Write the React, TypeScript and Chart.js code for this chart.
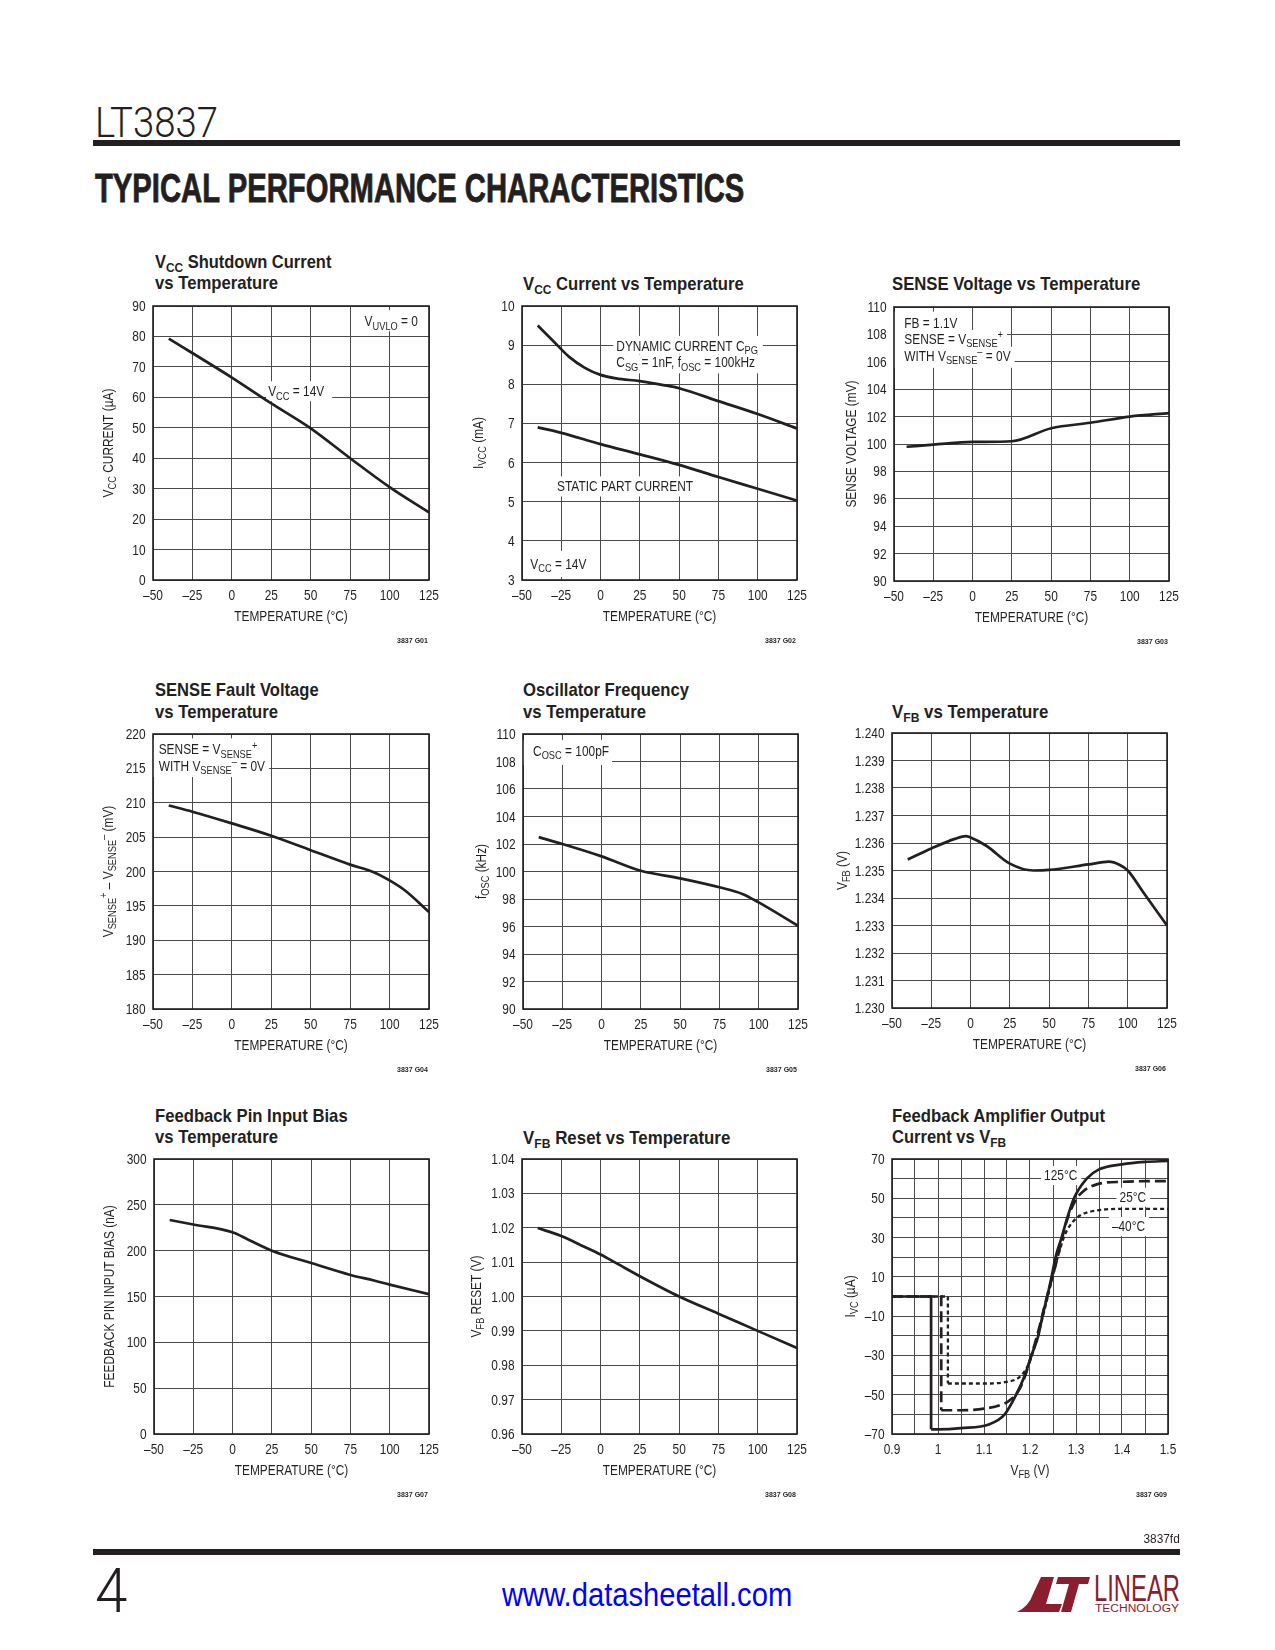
import React, { useEffect, useLayoutEffect, useRef } from 'react';
import { Chart, registerables } from 'chart.js';

Chart.register(...registerables);

// ---------------- data ----------------
const TEMP_TICKS = [-50, -25, 0, 25, 50, 75, 100, 125];

// G01 VCC shutdown current
const G01_T = [-40, 0, 25, 50, 75, 100, 125];
const G01_I = [79.3, 66.5, 58.0, 49.8, 40.0, 30.5, 22.2];
const G01_Y_TICKS = [0, 10, 20, 30, 40, 50, 60, 70, 80, 90];

// G02 VCC current
const G02_DYN_T = [-40, -30, -20, -10, 0, 10, 25, 40, 50, 75, 100, 125];
const G02_DYN_I = [9.5, 9.1, 8.7, 8.42, 8.24, 8.15, 8.08, 7.98, 7.9, 7.57, 7.24, 6.87];
const G02_STA_T = [-40, -25, 0, 25, 50, 75, 100, 125];
const G02_STA_I = [6.9, 6.76, 6.47, 6.21, 5.94, 5.63, 5.33, 5.03];
const G02_Y_TICKS = [3, 4, 5, 6, 7, 8, 9, 10];

// G03 SENSE voltage
const G03_T = [-42, -25, 0, 25, 50, 75, 100, 125];
const G03_V = [99.8, 99.95, 100.15, 100.2, 101.15, 101.55, 102.0, 102.25];
const G03_Y_TICKS = [90, 92, 94, 96, 98, 100, 102, 104, 106, 108, 110];

// G04 SENSE fault voltage
const G04_T = [-40, -25, 0, 25, 50, 75, 90, 100, 110, 125];
const G04_V = [209.6, 208.7, 207.0, 205.2, 203.1, 201.0, 199.9, 198.7, 197.2, 194.1];
const G04_Y_TICKS = [180, 185, 190, 195, 200, 205, 210, 215, 220];

// G05 oscillator frequency
const G05_T = [-40, -25, 0, 25, 50, 75, 90, 100, 125];
const G05_F = [102.5, 102.0, 101.1, 100.05, 99.5, 98.85, 98.35, 97.75, 96.05];
const G05_Y_TICKS = [90, 92, 94, 96, 98, 100, 102, 104, 106, 108, 110];

// G06 VFB
const G06_T = [-40, -25, -10, -3, 0, 10, 25, 40, 50, 75, 88, 95, 100, 110, 125];
const G06_V = [1.2354, 1.2358, 1.23615, 1.23625, 1.2362, 1.2359, 1.23525, 1.235, 1.23502, 1.23522, 1.23532, 1.2352, 1.235, 1.2342, 1.233];
const G06_Y_TICKS = [1.23, 1.231, 1.232, 1.233, 1.234, 1.235, 1.236, 1.237, 1.238, 1.239, 1.24];

// G07 feedback pin input bias
const G07_T = [-40, -25, 0, 10, 25, 50, 75, 90, 100, 125];
const G07_I = [233.5, 228.5, 220, 212, 200, 186.5, 173.5, 167.5, 163, 152.5];
const G07_Y_TICKS = [0, 50, 100, 150, 200, 250, 300];

// G08 VFB reset
const G08_T = [-40, -25, -10, 0, 10, 25, 50, 75, 100, 125];
const G08_V = [1.0199, 1.0176, 1.0144, 1.0122, 1.0097, 1.0059, 1.0, 0.995, 0.99, 0.985];
const G08_Y_TICKS = [0.96, 0.97, 0.98, 0.99, 1.0, 1.01, 1.02, 1.03, 1.04];

// G09 feedback amplifier output current vs VFB
const G09_X_TICKS = [0.9, 0.95, 1, 1.05, 1.1, 1.15, 1.2, 1.25, 1.3, 1.35, 1.4, 1.45, 1.5];
const G09_Y_TICKS = [-70, -60, -50, -40, -30, -20, -10, 0, 10, 20, 30, 40, 50, 60, 70];
const G09_125_STEP_V = [0.9, 0.985, 0.985];
const G09_125_STEP_I = [0, 0, -67.6];
const G09_125_V = [0.985, 1.0, 1.05, 1.112, 1.145, 1.17, 1.189, 1.203, 1.218, 1.227, 1.2375, 1.2469, 1.2556, 1.2687, 1.281, 1.2956, 1.3233, 1.35, 1.4, 1.45, 1.5];
const G09_125_I = [-67.6, -67.6, -67.0, -65, -60, -50, -40, -30, -20, -10, 0, 10, 20, 30, 40, 50, 60, 64.7, 67.3, 68.5, 69];
const G09_25_STEP_V = [0.9, 1.007, 1.007];
const G09_25_STEP_I = [0, 0, -57.9];
const G09_25_V = [1.007, 1.0505, 1.1, 1.1342, 1.156, 1.1778, 1.1924, 1.2033, 1.2178, 1.236, 1.2578, 1.2796, 1.2978, 1.316, 1.3451, 1.3996, 1.5];
const G09_25_I = [-57.9, -57.9, -57.1, -55.4, -52.8, -46.9, -38.3, -29.8, -17.9, -0.9, 17.9, 38.3, 48.5, 53.6, 57.1, 58.4, 58.8];
const G09_M40_STEP_V = [0.9, 1.0215, 1.0215];
const G09_M40_STEP_I = [0, 0, -44.3];
const G09_M40_V = [1.0215, 1.1, 1.1487, 1.1778, 1.196, 1.2069, 1.2215, 1.2396, 1.2578, 1.276, 1.2942, 1.3124, 1.3451, 1.3996, 1.5];
const G09_M40_I = [-44.3, -44.3, -43.5, -40.9, -35, -28.1, -16.2, 0.8, 17.9, 31.5, 38.3, 41.7, 43.8, 44.6, 44.6];

// ---------------- style ----------------
const PAGE_W = 1275;
const PAGE_H = 1650;
const INK = '#231f20';
const GRID = '#4a4a4a';
const SANS = '"Liberation Sans", Arial, Helvetica, sans-serif';
const LIGHT = 'Roboto, "Liberation Sans", Arial, sans-serif';
const SX = 0.85;
const FS = 14;
const CAP = FS * 0.716;
const PL = 80, PR = 24, PT = 12, PB = 60;

type Seg = { t: string; k: 0 | 1 | 2 };
function parse(s: string): Seg[] {
  const out: Seg[] = [];
  let buf = '';
  let i = 0;
  while (i < s.length) {
    const c = s[i];
    if ((c === '_' || c === '^') && s[i + 1] === '{') {
      if (buf) { out.push({ t: buf, k: 0 }); buf = ''; }
      const j = s.indexOf('}', i);
      out.push({ t: s.slice(i + 2, j), k: c === '_' ? 1 : 2 });
      i = j + 1;
    } else { buf += c; i++; }
  }
  if (buf) out.push({ t: buf, k: 0 });
  return out;
}

function segFont(k: number, size: number) {
  return `${k ? size * 0.78 : size}px ${SANS}`;
}
function richWidth(ctx: CanvasRenderingContext2D, segs: Seg[], size = FS) {
  let w = 0;
  for (const s of segs) { ctx.font = segFont(s.k, size); w += ctx.measureText(s.t).width; }
  return w * SX;
}
function drawRich(ctx: CanvasRenderingContext2D, segs: Seg[], x: number, base: number, size = FS) {
  let cx = x;
  ctx.textBaseline = 'alphabetic';
  ctx.textAlign = 'left';
  for (const s of segs) {
    ctx.font = segFont(s.k, size);
    const dy = s.k === 1 ? size * 0.24 : s.k === 2 ? -size * 0.4 : 0;
    ctx.save();
    ctx.translate(cx, base + dy);
    ctx.scale(SX, 1);
    ctx.fillText(s.t, 0, 0);
    ctx.restore();
    cx += ctx.measureText(s.t).width * SX;
  }
}

const tempFmt = (v: number) => (v < 0 ? '–' + Math.abs(v) : String(v));

interface Series { xs: number[]; ys: number[]; dash?: number[]; smooth?: boolean; width?: number }
interface Note { text: string; x: number; y: number; align?: 'left' | 'right'; pad?: number[] }
interface Cfg {
  code: string;
  L: number; T: number; R: number; B: number;
  xMin: number; xMax: number; yMin: number; yMax: number;
  xTicks: number[]; yTicks: number[];
  xFmt: (v: number) => string; yFmt: (v: number) => string;
  xTitle: string; yTitle: string; yOff: number;
  series: Series[]; notes: Note[];
  title: string[]; titleW: number[]; titleX: number; rowBase: number;
}

const TEMP_X = { xMin: -50, xMax: 125, xTicks: TEMP_TICKS, xFmt: tempFmt, xTitle: 'TEMPERATURE (°C)' };
const ROW1 = 289.5, ROW2 = 718, ROW3 = 1143.3;

const CHARTS: Cfg[] = [
  {
    code: '3837 G01', L: 153, T: 306, R: 429, B: 580, ...TEMP_X,
    yMin: 0, yMax: 90, yTicks: G01_Y_TICKS, yFmt: (v) => String(v),
    yTitle: 'V_{CC} CURRENT (µA)', yOff: 45,
    series: [{ xs: G01_T, ys: G01_I }],
    notes: [
      { text: 'V_{UVLO} = 0', x: 118, y: 85, align: 'right', pad: [3, 4, 6, 5] },
      { text: 'V_{CC} = 14V', x: 23, y: 62, pad: [2, 8, 5, 5] },
    ],
    title: ['V_{CC} Shutdown Current', 'vs Temperature'], titleW: [176, 123], titleX: 155, rowBase: ROW1,
  },
  {
    code: '3837 G02', L: 522, T: 306, R: 797, B: 580, ...TEMP_X,
    yMin: 3, yMax: 10, yTicks: G02_Y_TICKS, yFmt: (v) => String(v),
    yTitle: 'I_{VCC} (mA)', yOff: 44,
    series: [{ xs: G02_DYN_T, ys: G02_DYN_I }, { xs: G02_STA_T, ys: G02_STA_I }],
    notes: [
      { text: 'DYNAMIC CURRENT C_{PG}', x: 10, y: 8.98, pad: [3, 5, 5, 3] },
      { text: 'C_{SG} = 1nF, f_{OSC} = 100kHz', x: 10, y: 8.56, pad: [3, 5, 3, 6] },
      { text: 'STATIC PART CURRENT', x: -27.7, y: 5.39, pad: [3, 4, 5, 5] },
      { text: 'V_{CC} = 14V', x: -44.7, y: 3.41, pad: [3, 4, 8, 8] },
    ],
    title: ['V_{CC} Current vs Temperature'], titleW: [221], titleX: 523, rowBase: ROW1,
  },
  {
    code: '3837 G03', L: 894, T: 307, R: 1169, B: 581, ...TEMP_X,
    yMin: 90, yMax: 110, yTicks: G03_Y_TICKS, yFmt: (v) => String(v),
    yTitle: 'SENSE VOLTAGE (mV)', yOff: 43,
    series: [{ xs: G03_T, ys: G03_V }],
    notes: [
      { text: 'FB = 1.1V', x: -43.45, y: 108.86, pad: [11, 4, 6, 3] },
      { text: 'SENSE = V_{SENSE}^{+}', x: -43.45, y: 107.66, pad: [11, 4, 4, 3] },
      { text: 'WITH V_{SENSE}^{–} = 0V', x: -43.45, y: 106.44, pad: [11, 4, 4, 7] },
    ],
    title: ['SENSE Voltage vs Temperature'], titleW: [248], titleX: 892, rowBase: ROW1,
  },
  {
    code: '3837 G04', L: 153, T: 734, R: 429, B: 1009, ...TEMP_X,
    yMin: 180, yMax: 220, yTicks: G04_Y_TICKS, yFmt: (v) => String(v),
    yTitle: 'V_{SENSE}^{+} – V_{SENSE}^{–} (mV)', yOff: 45,
    series: [{ xs: G04_T, ys: G04_V }],
    notes: [
      { text: 'SENSE = V_{SENSE}^{+}', x: -46.4, y: 217.75, pad: [7, 4, 6, 3] },
      { text: 'WITH V_{SENSE}^{–} = 0V', x: -46.4, y: 215.34, pad: [7, 4, 4, 6] },
    ],
    title: ['SENSE Fault Voltage', 'vs Temperature'], titleW: [164, 123], titleX: 155, rowBase: ROW2,
  },
  {
    code: '3837 G05', L: 523, T: 734, R: 798, B: 1009, ...TEMP_X,
    yMin: 90, yMax: 110, yTicks: G05_Y_TICKS, yFmt: (v) => String(v),
    yTitle: 'f_{OSC} (kHz)', yOff: 42,
    series: [{ xs: G05_T, ys: G05_F }],
    notes: [{ text: 'C_{OSC} = 100pF', x: -43.6, y: 108.77, pad: [11, 3, 6, 9] }],
    title: ['Oscillator Frequency', 'vs Temperature'], titleW: [166, 123], titleX: 523, rowBase: ROW2,
  },
  {
    code: '3837 G06', L: 892, T: 733, R: 1167, B: 1008, ...TEMP_X,
    yMin: 1.23, yMax: 1.24, yTicks: G06_Y_TICKS, yFmt: (v) => v.toFixed(3),
    yTitle: 'V_{FB} (V)', yOff: 50,
    series: [{ xs: G06_T, ys: G06_V }],
    notes: [],
    title: ['V_{FB} vs Temperature'], titleW: [156], titleX: 892, rowBase: ROW2,
  },
  {
    code: '3837 G07', L: 154, T: 1159, R: 429, B: 1434, ...TEMP_X,
    yMin: 0, yMax: 300, yTicks: G07_Y_TICKS, yFmt: (v) => String(v),
    yTitle: 'FEEDBACK PIN INPUT BIAS (nA)', yOff: 45,
    series: [{ xs: G07_T, ys: G07_I }],
    notes: [],
    title: ['Feedback Pin Input Bias', 'vs Temperature'], titleW: [193, 123], titleX: 155, rowBase: ROW3,
  },
  {
    code: '3837 G08', L: 522, T: 1159, R: 797, B: 1434, ...TEMP_X,
    yMin: 0.96, yMax: 1.04, yTicks: G08_Y_TICKS, yFmt: (v) => v.toFixed(2),
    yTitle: 'V_{FB} RESET (V)', yOff: 46,
    series: [{ xs: G08_T, ys: G08_V }],
    notes: [],
    title: ['V_{FB} Reset vs Temperature'], titleW: [207], titleX: 523, rowBase: ROW3,
  },
  {
    code: '3837 G09', L: 892, T: 1159, R: 1168, B: 1434,
    xMin: 0.9, xMax: 1.5, xTicks: G09_X_TICKS,
    xFmt: (v) => { const r = Math.round(v * 100); return r % 10 === 0 ? (r === 100 ? '1' : (r / 100).toFixed(1)) : ''; },
    xTitle: 'V_{FB} (V)',
    yMin: -70, yMax: 70, yTicks: G09_Y_TICKS,
    yFmt: (v) => { const r = Math.round(v); return (r + 70) % 20 === 0 ? tempFmt(r) : ''; },
    yTitle: 'I_{VC} (µA)', yOff: 42,
    series: [
      { xs: G09_125_STEP_V, ys: G09_125_STEP_I, smooth: false },
      { xs: G09_125_V, ys: G09_125_I },
      { xs: G09_25_STEP_V, ys: G09_25_STEP_I, smooth: false, dash: [11, 5] },
      { xs: G09_25_V, ys: G09_25_I, dash: [11, 5] },
      { xs: G09_M40_STEP_V, ys: G09_M40_STEP_I, smooth: false, dash: [4, 3], width: 2.3 },
      { xs: G09_M40_V, ys: G09_M40_I, dash: [4, 3], width: 2.3 },
    ],
    notes: [
      { text: '125°C', x: 1.2305, y: 61.85 },
      { text: '25°C', x: 1.3946, y: 50.8 },
      { text: '–40°C', x: 1.378, y: 35.85 },
    ],
    title: ['Feedback Amplifier Output', 'Current vs V_{FB}'], titleW: [213, 114], titleX: 892, rowBase: ROW3,
  },
];

function makeDecor(c: Cfg) {
  return {
    id: 'decor',
    beforeDatasetsDraw(chart: any) {
      const ctx: CanvasRenderingContext2D = chart.ctx;
      const a = chart.chartArea;
      const xs = chart.scales.x;
      const ys = chart.scales.y;
      ctx.save();
      // annotations: all white backings first, then the texts
      const placed = c.notes.map((n) => {
        const segs = parse(n.text);
        const w = richWidth(ctx, segs);
        const px = xs.getPixelForValue(n.x);
        const py = ys.getPixelForValue(n.y);
        const left = n.align === 'right' ? px - w : px;
        const base = py + CAP / 2;
        return { segs, w, left, base, pad: n.pad || [3, 4, 4, 5] };
      });
      ctx.fillStyle = '#ffffff';
      for (const p of placed) {
        const [pl, pr, pt, pb] = p.pad;
        ctx.fillRect(p.left - pl, p.base - CAP - pt, p.w + pl + pr, CAP + pt + pb);
      }
      ctx.fillStyle = INK;
      for (const p of placed) drawRich(ctx, p.segs, p.left, p.base);
      // frame
      ctx.strokeStyle = INK;
      ctx.lineWidth = 1.6;
      ctx.strokeRect(a.left, a.top, a.right - a.left, a.bottom - a.top);
      ctx.fillStyle = INK;
      // x tick labels
      for (const t of xs.ticks) {
        const lab = c.xFmt(t.value);
        if (!lab) continue;
        const segs = parse(lab);
        const w = richWidth(ctx, segs);
        drawRich(ctx, segs, xs.getPixelForValue(t.value) - w / 2, a.bottom + 20);
      }
      // y tick labels
      for (const t of ys.ticks) {
        const lab = c.yFmt(t.value);
        if (!lab) continue;
        const segs = parse(lab);
        const w = richWidth(ctx, segs);
        drawRich(ctx, segs, a.left - 7.5 - w, ys.getPixelForValue(t.value) + CAP / 2);
      }
      // x title
      {
        const segs = parse(c.xTitle);
        const w = richWidth(ctx, segs);
        drawRich(ctx, segs, (a.left + a.right) / 2 - w / 2, a.bottom + 41);
      }
      // y title (rotated)
      {
        const segs = parse(c.yTitle);
        const w = richWidth(ctx, segs);
        ctx.save();
        ctx.translate(a.left - c.yOff, (a.top + a.bottom) / 2);
        ctx.rotate(-Math.PI / 2);
        drawRich(ctx, segs, -w / 2, CAP / 2);
        ctx.restore();
      }
      ctx.restore();
    },
  };
}

function Plot({ c }: { c: Cfg }) {
  const ref = useRef<HTMLCanvasElement>(null);
  const w = c.R - c.L;
  const h = c.B - c.T;
  const W = w + PL + PR;
  const H = h + PT + PB;
  useEffect(() => {
    if (!ref.current) return;
    const chart = new Chart(ref.current, {
      type: 'line',
      data: {
        datasets: c.series.map((s) => ({
          data: s.xs.map((x, i) => ({ x, y: s.ys[i] })),
          borderColor: INK,
          borderWidth: s.width ?? 2.7,
          borderDash: s.dash ?? [],
          borderCapStyle: 'butt',
          borderJoinStyle: 'miter',
          pointRadius: 0,
          pointHoverRadius: 0,
          fill: false,
          tension: 0,
          cubicInterpolationMode: s.smooth === false ? 'default' : 'monotone',
        })),
      } as any,
      options: {
        responsive: false,
        animation: false,
        devicePixelRatio: 1,
        events: [],
        layout: { padding: { left: 0, top: PT, right: PR, bottom: 0 } },
        plugins: { legend: { display: false }, tooltip: { enabled: false }, title: { display: false } },
        scales: {
          x: {
            type: 'linear', min: c.xMin, max: c.xMax,
            afterBuildTicks: (s: any) => { s.ticks = c.xTicks.map((v) => ({ value: v })); },
            afterFit: (s: any) => { s.height = PB; },
            ticks: { display: false },
            grid: { color: GRID, lineWidth: 1, drawTicks: false },
            border: { display: false },
          },
          y: {
            type: 'linear', min: c.yMin, max: c.yMax,
            afterBuildTicks: (s: any) => { s.ticks = c.yTicks.map((v) => ({ value: v })); },
            afterFit: (s: any) => { s.width = PL; },
            ticks: { display: false },
            grid: { color: GRID, lineWidth: 1, drawTicks: false },
            border: { display: false },
          },
        },
      } as any,
      plugins: [makeDecor(c)],
    });
    return () => chart.destroy();
  }, []);
  return (
    <canvas
      ref={ref}
      width={W}
      height={H}
      style={{ position: 'absolute', left: c.L - PL, top: c.T - PT, width: W, height: H }}
    />
  );
}

function rich(s: string) {
  return parse(s).map((g, i) =>
    g.k === 0 ? (
      <React.Fragment key={i}>{g.t}</React.Fragment>
    ) : (
      <span key={i} style={{ fontSize: '0.72em', position: 'relative', top: g.k === 1 ? '0.28em' : '-0.45em' }}>
        {g.t}
      </span>
    )
  );
}

function Txt(props: {
  x: number; base: number; size: number; w?: number; weight?: number; family?: string;
  color?: string; align?: 'left' | 'right'; extra?: any; children: any;
}) {
  const { x, base, size, w, weight = 400, family = SANS, color = INK, align = 'left', extra = {} } = props;
  const ref = useRef<HTMLSpanElement>(null);
  useLayoutEffect(() => {
    const el = ref.current;
    if (!el || !w) return;
    el.style.transform = 'none';
    const nat = el.offsetWidth;
    if (nat > 0) el.style.transform = `scaleX(${w / nat})`;
  }, [w]);
  const style: any = {
    position: 'absolute',
    top: base - 0.846 * size,
    fontSize: size,
    lineHeight: `${size}px`,
    fontWeight: weight,
    fontFamily: family,
    color,
    whiteSpace: 'nowrap',
    display: 'inline-block',
    transformOrigin: align === 'left' ? '0 0' : '100% 0',
    ...extra,
  };
  if (align === 'left') style.left = x;
  else style.right = PAGE_W - x;
  return <span ref={ref} style={style}>{props.children}</span>;
}

function Logo() {
  const red = '#8c1d2e';
  return (
    <svg
      width={PAGE_W}
      height={80}
      viewBox={`0 1560 ${PAGE_W} 80`}
      style={{ position: 'absolute', left: 0, top: 1560 }}
    >
      <path d="M1041,1577 L1054,1577 L1046,1604 L1062,1604 L1059,1612 L1017,1612 Q1029,1606 1033,1594 Z" fill={red} />
      <path d="M1058,1577 L1090,1577 L1088,1584 L1079,1584 L1071,1612 L1061,1612 L1069,1584 L1056,1584 Z" fill={red} />
      <text x={1094} y={1601} fontSize={36} fontFamily={SANS} fill={red} textLength={86} lengthAdjust="spacingAndGlyphs">
        LINEAR
      </text>
      <text x={1095} y={1612} fontSize={10} fontFamily={SANS} fill={red} textLength={84} lengthAdjust="spacingAndGlyphs">
        TECHNOLOGY
      </text>
    </svg>
  );
}

export default function App() {
  return (
    <div
      style={{
        position: 'absolute', left: 0, top: 0, width: PAGE_W, height: PAGE_H,
        background: '#ffffff', overflow: 'hidden', fontFamily: SANS, color: INK,
      }}
    >
      <Txt x={95} base={137} size={43} w={123} family={LIGHT} weight={300}>LT3837</Txt>
      <div style={{ position: 'absolute', left: 93, top: 140, width: 1087, height: 6, background: INK }} />
      <Txt x={95} base={203} size={41} w={649} weight={700} extra={{ WebkitTextStroke: '0.8px ' + INK }}>
        TYPICAL PERFORMANCE CHARACTERISTICS
      </Txt>

      {CHARTS.map((c) => (
        <React.Fragment key={c.code}>
          {c.title.length === 2 ? (
            <>
              <Txt x={c.titleX} base={c.rowBase - 21.5} size={19} w={c.titleW[0]} weight={700}>{rich(c.title[0])}</Txt>
              <Txt x={c.titleX} base={c.rowBase} size={19} w={c.titleW[1]} weight={700}>{rich(c.title[1])}</Txt>
            </>
          ) : (
            <Txt x={c.titleX} base={c.rowBase + 0.5} size={19} w={c.titleW[0]} weight={700}>{rich(c.title[0])}</Txt>
          )}
          <Plot c={c} />
          <Txt x={c.R - 1} base={c.B + 63} size={7.5} w={31} weight={700} align="right">{c.code}</Txt>
        </React.Fragment>
      ))}

      <Txt x={1180} base={1543} size={13} w={36.5} align="right">3837fd</Txt>
      <div style={{ position: 'absolute', left: 93, top: 1549, width: 1087, height: 6, background: INK }} />
      <Txt x={95} base={1612} size={62} w={32} family={LIGHT} weight={300}>4</Txt>
      <Txt x={502} base={1606} size={34} w={290} color="#0000ff">www.datasheetall.com</Txt>
      <Logo />
    </div>
  );
}
